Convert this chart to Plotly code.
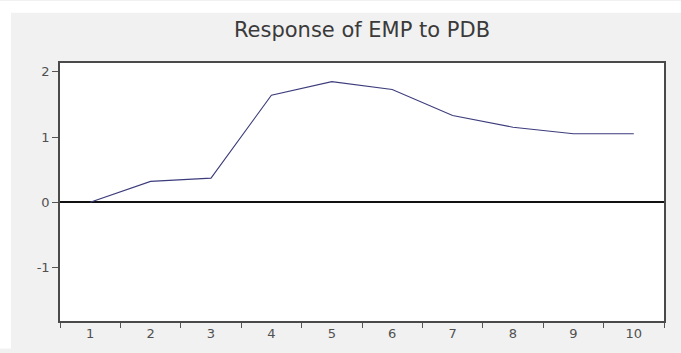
import plotly.graph_objects as go

periods = [1, 2, 3, 4, 5, 6, 7, 8, 9, 10]
response = [0.0, 0.32, 0.37, 1.64, 1.85, 1.73, 1.33, 1.15, 1.05, 1.05]
y_ticks = [-1, 0, 1, 2]
y_tick_text = ["-1", "0", "1", "2"]
title_text = "Response of EMP to PDB"

W, H = 681, 353
ml, mr, mt, mb = 60, 17, 63, 28
pw, ph = W - ml - mr, H - mt - mb

fig = go.Figure()
fig.add_trace(go.Scatter(x=periods, y=response, mode="lines",
                         line=dict(color="#3c3c7c", width=1.1),
                         showlegend=False, hoverinfo="skip"))

fig.update_layout(
    width=W, height=H,
    margin=dict(l=ml, r=mr, t=mt, b=mb),
    paper_bgcolor="#f1f1f1",
    plot_bgcolor="#ffffff",
    font=dict(family="DejaVu Sans, Liberation Sans, sans-serif", color="#505050", size=12),
    title=dict(text=title_text, x=0.5, xref="paper", xanchor="center",
               y=1 - 30 / H, yref="container", yanchor="middle",
               font=dict(size=21, color="#3a3a3a")),
    xaxis=dict(range=[0.5, 10.5], tickvals=periods, ticktext=[str(p) for p in periods],
               ticks="", showgrid=False, zeroline=False,
               showline=True, linecolor="#4a4a4a", linewidth=1.5, mirror=True,
               tickfont=dict(size=13, color="#505050"),
               minor=dict(tickvals=[p - 0.5 for p in periods] + [10.5],
                          ticks="outside", ticklen=5, tickcolor="#555555", tickwidth=1.2,
                          showgrid=False)),
    yaxis=dict(range=[-1.82, 2.135], tickvals=y_ticks, ticktext=y_tick_text,
               ticks="outside", ticklen=6,
               tickcolor="#555555", tickwidth=1.2, showgrid=False,
               zeroline=True, zerolinecolor="#111111", zerolinewidth=1.5,
               showline=True, linecolor="#4a4a4a", linewidth=1.5, mirror=True,
               tickfont=dict(size=13, color="#505050")),
)

# white border strips around the gray frame (top and left)
fig.add_shape(type="rect", xref="paper", yref="paper",
              x0=-ml / pw, x1=(W - ml) / pw,
              y0=(H - mb - 12) / ph, y1=(H - mb) / ph,
              fillcolor="#ffffff", line=dict(width=0), layer="below")
fig.add_shape(type="rect", xref="paper", yref="paper",
              x0=-ml / pw, x1=(11 - ml) / pw, y0=-mb / ph, y1=(H - mb) / ph,
              fillcolor="#ffffff", line=dict(width=0), layer="below")

fig.write_html("out.html", config={"displayModeBar": False},
               post_script="document.body.style.margin='0';document.body.style.overflow='hidden';")
